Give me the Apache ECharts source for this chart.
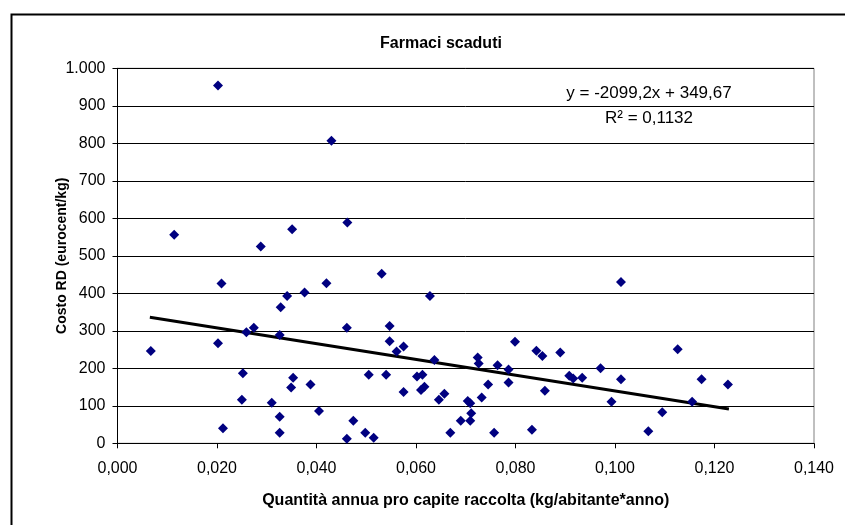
<!DOCTYPE html>
<html>
<head>
<meta charset="utf-8">
<script src="https://cdn.jsdelivr.net/npm/echarts@6/dist/echarts.min.js"></script>
<style>
html,body{margin:0;padding:0;background:#fff;}
#chart{width:845px;height:525px;}
</style>
</head>
<body>
<div id="chart"></div>
<script>
// Quantità annua pro capite raccolta (kg/abitante*anno)
const xValues = [0.0067,0.0114,0.0202,0.0202,0.0209,0.0212,0.0250,0.0252,0.0259,0.0274,
  0.0288,0.0310,0.0326,0.0326,0.0326,0.0328,0.0341,0.0349,0.0351,0.0353,
  0.0376,0.0388,0.0405,0.0420,0.0430,0.0461,0.0461,0.0462,0.0474,0.0498,
  0.0505,0.0515,0.0531,0.0540,0.0547,0.0547,0.0561,0.0575,0.0575,0.0602,
  0.0610,0.0613,0.0617,0.0628,0.0637,0.0646,0.0657,0.0669,0.0690,0.0704,
  0.0709,0.0711,0.0709,0.0724,0.0726,0.0732,0.0745,0.0757,0.0764,0.0786,
  0.0786,0.0799,0.0833,0.0842,0.0854,0.0859,0.0890,0.0908,0.0916,0.0934,
  0.0971,0.0993,0.1012,0.1012,0.1067,0.1095,0.1126,0.1155,0.1174,0.1227];
// Costo RD (eurocent/kg)
const yValues = [246,556,954,267,426,40,116,187,296,308,
  525,108,289,71,28,363,393,149,571,175,
  402,157,86,427,807,308,12,589,60,28,
  183,15,452,183,313,272,245,258,137,178,
  142,183,151,393,222,116,132,28,60,113,
  107,80,60,229,213,122,157,28,208,197,
  162,271,36,247,233,140,242,180,173,175,
  200,111,430,171,32,83,251,111,171,157];
// Linear trend line (as printed on the chart)
const trendSlope = -2099.2;
const trendIntercept = 349.67;
const trendRange = [0.0065, 0.1229];
const trendLabel = ['y = -2099,2x + 349,67', 'R\u00b2 = 0,1132'];
const xTicks = [0, 0.14, 0.02];
const yTicks = [0, 1000, 100];

const points = xValues.map((x, i) => [x, yValues[i]]);
const trendPoints = trendRange.map(x => [x, trendSlope * x + trendIntercept]);

const chart = echarts.init(document.getElementById('chart'), null, {renderer: 'canvas'});
const FONT = '"Liberation Sans", Arial, sans-serif';
chart.setOption({
  animation: false,
  backgroundColor: '#fff',
  title: {
    text: 'Farmaci scaduti',
    left: 436, top: 31,
    textAlign: 'center',
    textStyle: {fontFamily: FONT, fontSize: 16, fontWeight: 'bold', color: '#000'}
  },
  grid: {
    left: 117.5, top: 68.3, right: 31, bottom: 81.7,
    show: true, borderColor: '#808080', borderWidth: 1, backgroundColor: '#fff'
  },
  xAxis: {
    type: 'value',
    min: xTicks[0], max: xTicks[1], interval: xTicks[2],
    name: 'Quantità annua pro capite raccolta (kg/abitante*anno)',
    nameLocation: 'middle', nameGap: 49, nameMoveOverlap: false,
    nameTextStyle: {fontFamily: FONT, fontSize: 16, fontWeight: 'bold', color: '#000'},
    axisLine: {show: true, onZero: false, lineStyle: {color: '#000', width: 1}},
    axisTick: {show: true, inside: false, length: 5, lineStyle: {color: '#000'}},
    axisLabel: {fontFamily: FONT, fontSize: 16, color: '#000', margin: 17,
      formatter: v => v.toFixed(3).replace('.', ',')},
    splitLine: {show: false}
  },
  yAxis: {
    type: 'value',
    min: yTicks[0], max: yTicks[1], interval: yTicks[2],
    name: 'Costo RD (eurocent/kg)',
    nameLocation: 'middle', nameGap: 48, nameRotate: 90, nameMoveOverlap: false,
    nameTextStyle: {fontFamily: FONT, fontSize: 14, fontWeight: 'bold', color: '#000'},
    axisLine: {show: true, onZero: false, lineStyle: {color: '#000', width: 1}},
    axisTick: {show: true, inside: false, length: 5, lineStyle: {color: '#000'}},
    axisLabel: {fontFamily: FONT, fontSize: 16, color: '#000', margin: 12,
      formatter: v => v >= 1000 ? (Math.floor(v / 1000) + '.' + String(v % 1000).padStart(3, '0')) : String(v)},
    splitLine: {show: true, lineStyle: {color: '#000', width: 1}}
  },
  graphic: [
    {type: 'rect', left: 9, top: 12, silent: true, z: -10,
      shape: {width: 900, height: 600},
      style: {fill: 'none', stroke: '#000', lineWidth: 2}},
    {type: 'text', x: 649, y: 93, silent: true,
      style: {text: trendLabel[0], fontFamily: FONT, fontSize: 17, fill: '#000',
        align: 'center', verticalAlign: 'middle'}},
    {type: 'text', x: 649, y: 118, silent: true,
      style: {text: trendLabel[1], fontFamily: FONT, fontSize: 17, fill: '#000',
        align: 'center', verticalAlign: 'middle'}}
  ],
  series: [
    {
      type: 'scatter',
      data: points,
      symbol: 'diamond',
      symbolSize: 10,
      itemStyle: {color: '#000080', opacity: 1},
      z: 3
    },
    {
      type: 'line',
      data: trendPoints,
      symbol: 'none',
      lineStyle: {color: '#000', width: 3},
      z: 2
    }
  ]
});
</script>
</body>
</html>
